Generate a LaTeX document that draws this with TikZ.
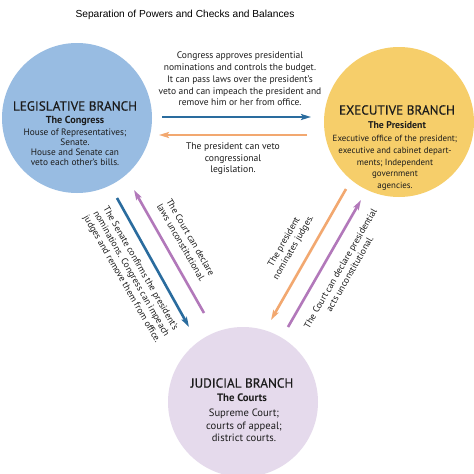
\documentclass[tikz,border=0pt]{standalone}
\usepackage{fontspec}
\setmainfont{PT Sans}
\newfontfamily\titlefont{Liberation Sans}
\newfontfamily\headfont[FakeBold=0.5]{PT Sans}
\usetikzlibrary{arrows.meta}
\definecolor{legblue}{RGB}{152,188,226}
\definecolor{exeyellow}{RGB}{246,206,106}
\definecolor{judpurple}{RGB}{229,218,236}
\definecolor{arrblue}{RGB}{42,108,158}
\definecolor{arrorange}{RGB}{242,168,112}
\definecolor{arrpurple}{RGB}{178,120,186}
\definecolor{txt}{RGB}{28,28,28}
\begin{document}
\begin{tikzpicture}[x=1pt,y=-1pt,
  branch/.style={circle, minimum size=150pt, inner sep=0pt},
  heading/.style={font=\headfont\fontsize{13.2}{15}\selectfont, text=txt, inner sep=0pt},
  subhead/.style={font=\fontsize{10.2}{12}\selectfont\bfseries, text=txt, inner sep=0pt},
  body/.style={text=txt, align=center, inner sep=0pt},
  arr/.style={line width=2.6pt, -{Stealth[length=10pt,width=6pt,inset=2pt]}}]
\useasboundingbox (0,0) rectangle (474,474);
\fill[white] (0,0) rectangle (474,474);

\node[inner sep=0pt, font=\titlefont\fontsize{10.2}{12}\selectfont] (title) at (185,15) {Separation of Powers and Checks and Balances};

% circles
\node[branch, fill=legblue] (leg) at (77,118) {};
\node[branch, fill=exeyellow] (exe) at (399,122) {};
\node[branch, fill=judpurple] (jud) at (243,402) {};

% legislative text
\node[heading] (legh) at (75,106) {LEGISLATIVE BRANCH};
\node[subhead] (legs) at (75,121) {The Congress};
\node[body, font=\fontsize{9.3}{9.9}\selectfont] (legb) at (75,147.5) {House of Representatives;\\Senate.\\House and Senate can\\veto each other's bills.};

% executive text
\node[heading] (exeh) at (397,110) {EXECUTIVE BRANCH};
\node[subhead, font=\fontsize{9.8}{12}\selectfont\bfseries] (exes) at (397,125) {The President};
\node[body, font=\fontsize{8.9}{11.7}\selectfont] (exeb) at (395,163) {Executive office of the president;\\executive and cabinet depart-\\ments; Independent\\government\\ agencies.};

% judicial text
\node[heading] (judh) at (242,383) {JUDICIAL BRANCH};
\node[subhead, font=\fontsize{10.8}{12}\selectfont\bfseries] (juds) at (242,398) {The Courts};
\node[body, font=\fontsize{10.6}{12.3}\selectfont] (judb) at (244,425.5) {Supreme Court;\\courts of appeal;\\district courts.};

% horizontal
\coordinate (b1) at (162,117); \coordinate (b2) at (311,117);
\coordinate (o1) at (307,135); \coordinate (o2) at (159,135);
\draw[arr, arrblue] (b1) -- (b2);
\draw[arr, arrorange] (o1) -- (o2);
\node[body, font=\fontsize{9.5}{11.7}\selectfont] (toptext) at (240,79) {Congress approves presidential\\nominations and controls the budget.\\It can pass laws over the president's\\veto and can impeach the president and\\remove him or her from office.};
\node[body, font=\fontsize{9.6}{11.5}\selectfont] (vetotext) at (233,159) {The president can veto\\congressional\\legislation.};

% left diagonals
\coordinate (lb1) at (117,198); \coordinate (lb2) at (189,327);
\coordinate (lp1) at (204,313); \coordinate (lp2) at (134,190);
\draw[arr, arrblue] (lb1) -- (lb2);
\draw[arr, arrpurple] (lp1) -- (lp2);
\node[body, rotate=-60, font=\fontsize{9.3}{10.8}\selectfont] (courtlaws) at (186,240) {The Court can declare\\laws unconstitutional.};
\node[body, rotate=-60, font=\fontsize{9.3}{10.8}\selectfont] (senate) at (131,274) {The Senate confirms the president's\\nominations. Congress can impeach\\judges and remove them from office.};

% right diagonals
\coordinate (ro1) at (346,189); \coordinate (ro2) at (271,320);
\coordinate (rp1) at (288,327); \coordinate (rp2) at (361,200);
\draw[arr, arrorange] (ro1) -- (ro2);
\draw[arr, arrpurple] (rp1) -- (rp2);
\node[body, rotate=60, font=\fontsize{9.3}{10.8}\selectfont] (nominate) at (289,245) {The president\\nominates judges.};
\node[body, rotate=60, font=\fontsize{9.3}{10.8}\selectfont] (courtacts) at (345,271) {The Court can declare presidential\\acts unconstitutional.};
\end{tikzpicture}
\end{document}
